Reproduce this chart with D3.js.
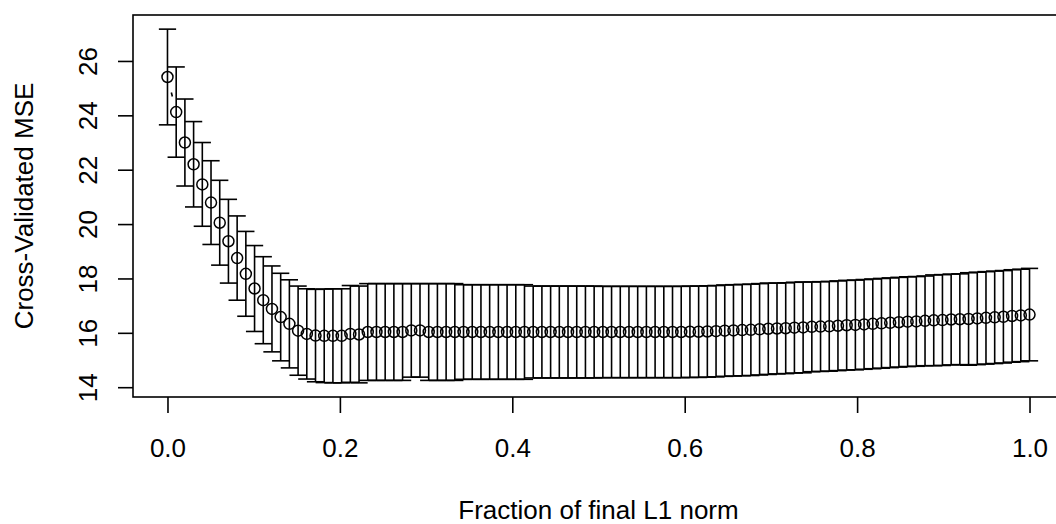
<!DOCTYPE html>
<html>
<head>
<meta charset="utf-8">
<script src="https://cdnjs.cloudflare.com/ajax/libs/d3/7.8.5/d3.min.js"></script>
<style>
  body { margin: 0; background: #fff; }
  svg { display: block; font-family: "Liberation Sans", Arial, sans-serif; }
</style>
</head>
<body>
<svg id="chart" width="1056" height="524"></svg>
<script>
// cv.lars style output: mean CV error and its standard error per fraction
var cvMean = [
    25.41, 24.12, 23.00, 22.20, 21.46, 20.79, 20.05, 19.37, 18.75, 18.17,
    17.63, 17.20, 16.88, 16.58, 16.33, 16.08, 15.96, 15.90, 15.89, 15.89,
    15.89, 15.96, 15.94, 16.03, 16.03, 16.03, 16.03, 16.03, 16.09, 16.09,
    16.03, 16.03, 16.03, 16.03, 16.03, 16.03, 16.03, 16.03, 16.03, 16.03,
    16.03, 16.03, 16.03, 16.03, 16.03, 16.03, 16.03, 16.03, 16.03, 16.03,
    16.03, 16.03, 16.03, 16.03, 16.03, 16.03, 16.03, 16.03, 16.03, 16.03,
    16.04, 16.04, 16.05, 16.06, 16.08, 16.09, 16.10, 16.11, 16.13, 16.15,
    16.16, 16.17, 16.19, 16.20, 16.22, 16.23, 16.24, 16.26, 16.28, 16.29,
    16.31, 16.33, 16.35, 16.37, 16.39, 16.41, 16.42, 16.44, 16.46, 16.47,
    16.49, 16.50, 16.51, 16.53, 16.55, 16.57, 16.59, 16.62, 16.64, 16.67
];
var cvError = [
    1.76, 1.66, 1.60, 1.57, 1.54, 1.54, 1.56, 1.54, 1.55, 1.56,
    1.58, 1.60, 1.58, 1.61, 1.62, 1.64, 1.66, 1.70, 1.72, 1.73,
    1.73, 1.78, 1.78, 1.78, 1.78, 1.78, 1.78, 1.78, 1.72, 1.72,
    1.78, 1.78, 1.78, 1.78, 1.74, 1.74, 1.74, 1.74, 1.74, 1.74,
    1.74, 1.74, 1.69, 1.69, 1.69, 1.69, 1.69, 1.69, 1.69, 1.69,
    1.68, 1.68, 1.68, 1.68, 1.68, 1.68, 1.68, 1.68, 1.68, 1.68,
    1.68, 1.68, 1.68, 1.68, 1.68, 1.68, 1.68, 1.68, 1.68, 1.68,
    1.67, 1.67, 1.67, 1.67, 1.65, 1.65, 1.65, 1.65, 1.65, 1.65,
    1.65, 1.65, 1.65, 1.65, 1.65, 1.65, 1.65, 1.65, 1.67, 1.67,
    1.67, 1.67, 1.70, 1.70, 1.70, 1.70, 1.70, 1.70, 1.70, 1.70
];
var xTicks = [0, 0.2, 0.4, 0.6, 0.8, 1.0];
var yTicks = [14, 16, 18, 20, 22, 24, 26];
var xTitle = "Fraction of final L1 norm";
var yTitle = "Cross-Validated MSE";

var n = cvMean.length;
var fraction = d3.range(n).map(function(i) { return i / (n - 1); });
var data = fraction.map(function(f, i) {
    return {f: f, cv: cvMean[i], up: cvMean[i] + cvError[i], lo: cvMean[i] - cvError[i]};
});

// plot region (R-like, right side of the box runs past the picture edge)
var box = {left: 133, right: 1064, top: 15, bottom: 397};
var fs = 26;

var svg = d3.select("#chart");

// R pads the ranges by 4%
var yMin = d3.min(data, function(d) { return d.lo; });
var yMax = d3.max(data, function(d) { return d.up; });
var yPad = (yMax - yMin) * 0.04;

var x = d3.scaleLinear().domain([-0.04, 1.04]).range([box.left, box.right]);
var y = d3.scaleLinear().domain([yMin - yPad, yMax + yPad]).range([box.bottom, box.top]);

var lw = 1.6;
var barw = 0.01;

// error bars
var bars = svg.append("g").attr("stroke", "#000").attr("stroke-width", lw).attr("fill", "none");
data.forEach(function(d) {
    bars.append("line").attr("x1", x(d.f)).attr("x2", x(d.f)).attr("y1", y(d.up)).attr("y2", y(d.lo));
    bars.append("line").attr("x1", x(d.f - barw)).attr("x2", x(d.f + barw)).attr("y1", y(d.up)).attr("y2", y(d.up));
    bars.append("line").attr("x1", x(d.f - barw)).attr("x2", x(d.f + barw)).attr("y1", y(d.lo)).attr("y2", y(d.lo));
});

// type = "b": line pieces between points, with a gap round each point
var gap = 16;
var segs = svg.append("g").attr("stroke", "#000").attr("stroke-width", lw);
for (var i = 0; i < n - 1; i++) {
    var x0 = x(data[i].f), y0 = y(data[i].cv);
    var x1 = x(data[i + 1].f), y1 = y(data[i + 1].cv);
    var len = Math.sqrt((x1 - x0) * (x1 - x0) + (y1 - y0) * (y1 - y0));
    if (len > 2 * gap) {
        var ux = (x1 - x0) / len, uy = (y1 - y0) / len;
        segs.append("line")
            .attr("x1", x0 + ux * gap).attr("y1", y0 + uy * gap)
            .attr("x2", x1 - ux * gap).attr("y2", y1 - uy * gap);
    }
}

svg.append("g").selectAll("circle")
    .data(data)
    .enter().append("circle")
    .attr("cx", function(d) { return x(d.f); })
    .attr("cy", function(d) { return y(d.cv); })
    .attr("r", 5.5)
    .attr("fill", "none")
    .attr("stroke", "#000")
    .attr("stroke-width", 1.5);

// box
svg.append("rect")
    .attr("x", box.left).attr("y", box.top)
    .attr("width", box.right - box.left).attr("height", box.bottom - box.top)
    .attr("fill", "none").attr("stroke", "#000").attr("stroke-width", lw);

// axes
var xAxis = svg.append("g")
    .attr("transform", "translate(0," + box.bottom + ")")
    .call(d3.axisBottom(x).tickValues(xTicks).tickSize(16).tickFormat(d3.format(".1f")));
xAxis.select(".domain").remove();
xAxis.selectAll("line").attr("stroke-width", lw);
xAxis.selectAll("text")
    .attr("y", 60).attr("dy", 0)
    .attr("font-size", fs).attr("font-family", "Liberation Sans, Arial, sans-serif").attr("fill", "#000");

var yAxis = svg.append("g")
    .attr("transform", "translate(" + box.left + ",0)")
    .call(d3.axisLeft(y).tickValues(yTicks).tickSize(15));
yAxis.select(".domain").remove();
yAxis.selectAll("line").attr("stroke-width", lw);
yAxis.selectAll("text")
    .attr("x", 0).attr("dy", 0)
    .attr("text-anchor", "middle")
    .attr("transform", "translate(-36,0) rotate(-90)")
    .attr("font-size", fs).attr("font-family", "Liberation Sans, Arial, sans-serif").attr("fill", "#000");

// titles
svg.append("text")
    .attr("x", (box.left + box.right) / 2).attr("y", 519)
    .attr("text-anchor", "middle").attr("font-size", fs)
    .text(xTitle);

svg.append("text")
    .attr("transform", "translate(33," + ((box.top + box.bottom) / 2) + ") rotate(-90)")
    .attr("text-anchor", "middle").attr("font-size", fs)
    .text(yTitle);
</script>
</body>
</html>
